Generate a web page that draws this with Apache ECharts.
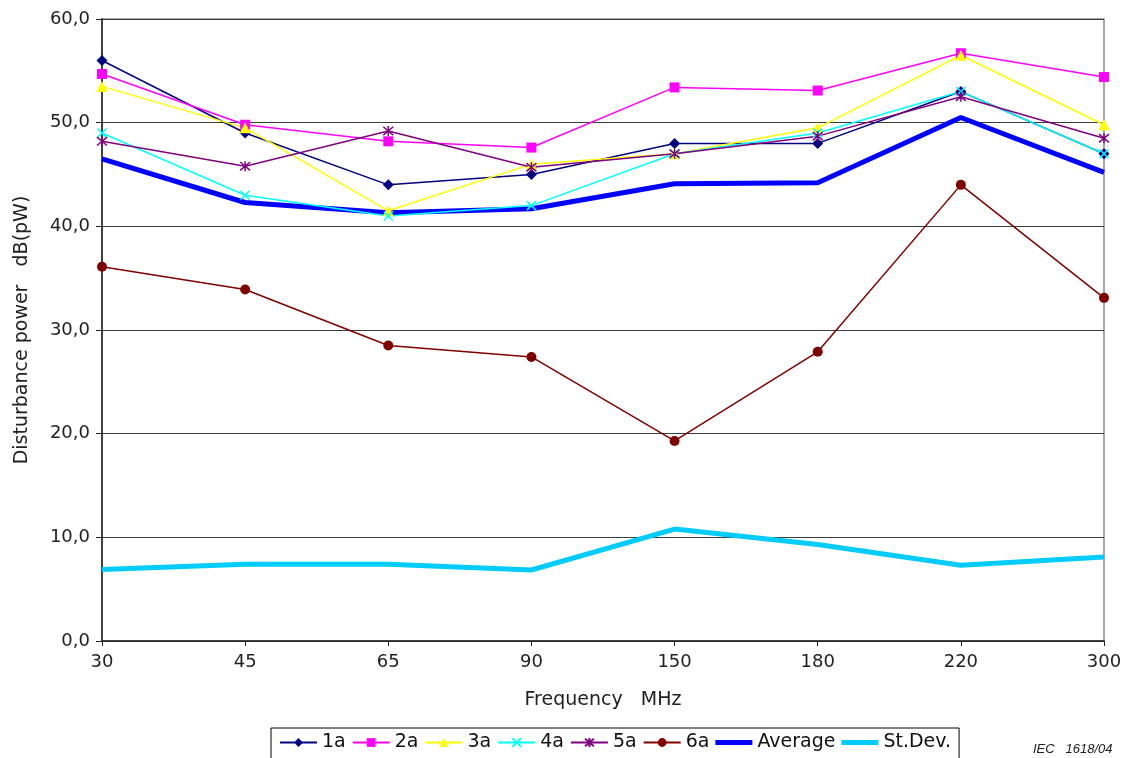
<!DOCTYPE html>
<html>
<head>
<meta charset="utf-8">
<title>Disturbance power vs frequency</title>
<script src="https://cdn.jsdelivr.net/npm/echarts@6/dist/echarts.min.js"></script>
<style>
  html, body { margin: 0; padding: 0; background: #fff; }
  #chart { width: 1129px; height: 758px; }
</style>
</head>
<body>
<div id="chart"></div>
<script>
// Frequency categories (MHz)
var frequencies = ['30', '45', '65', '90', '150', '180', '220', '300'];

// Measured disturbance power, dB(pW), per sample
var s1a = [56.0, 49.0, 44.0, 45.0, 48.0, 48.0, 53.0, 47.0];
var s2a = [54.7, 49.8, 48.2, 47.6, 53.4, 53.1, 56.7, 54.4];
var s3a = [53.5, 49.5, 41.5, 46.0, 47.0, 49.5, 56.5, 49.8];
var s4a = [49.0, 43.0, 41.0, 42.0, 47.0, 49.0, 53.0, 47.0];
var s5a = [48.2, 45.8, 49.2, 45.7, 47.0, 48.7, 52.5, 48.5];
var s6a = [36.1, 33.9, 28.5, 27.4, 19.3, 27.9, 44.0, 33.1];
var average = [46.5, 42.3, 41.3, 41.7, 44.1, 44.2, 50.5, 45.2];
var stDev = [6.9, 7.4, 7.4, 6.85, 10.8, 9.3, 7.3, 8.1];

// Y axis ticks
var yTicks = [0, 10, 20, 30, 40, 50, 60];

var FONT = 'DejaVu Sans';
var crossPath = 'path://M0,0L10,10M10,0L0,10';
var asteriskPath = 'path://M0,0L10,10M10,0L0,10M5,-1L5,11';
// plain thick bar used as legend key for the summary lines
var barIcon = 'path://M0,0H37V5H0Z';

function markerSeries(name, data, color, symbol, size, strokeOnly) {
  return {
    name: name,
    type: 'line',
    data: data,
    symbol: symbol,
    symbolSize: size,
    showAllSymbol: true,
    lineStyle: { color: color, width: 1.5 },
    itemStyle: strokeOnly
      ? { color: color, borderColor: color, borderWidth: 1.5 }
      : { color: color, borderWidth: 0 },
    emphasis: { disabled: true },
    z: 3
  };
}

function plainSeries(name, data, color, width) {
  return {
    name: name,
    type: 'line',
    data: data,
    symbol: 'none',
    lineStyle: { color: color, width: width },
    itemStyle: { color: color },
    emphasis: { disabled: true },
    z: 2
  };
}

var chart = echarts.init(document.getElementById('chart'), null, { renderer: 'canvas' });

chart.setOption({
  animation: false,
  backgroundColor: '#ffffff',
  textStyle: { fontFamily: FONT },
  grid: {
    left: 102, right: 25, top: 19, bottom: 117,
    show: true, borderColor: '#8a8a8a', borderWidth: 1.5, backgroundColor: 'transparent'
  },
  legend: {
    left: 271, top: 728,
    padding: [5, 8, 8, 8],
    itemGap: 6,
    itemWidth: 37,
    itemHeight: 11,
    borderColor: '#000', borderWidth: 1,
    textStyle: { fontFamily: FONT, fontSize: 19, color: '#111' },
    data: [
      '1a', '2a', '3a', '4a', '5a', '6a',
      { name: 'Average', icon: barIcon },
      { name: 'St.Dev.', icon: barIcon }
    ]
  },
  xAxis: {
    type: 'category',
    data: frequencies,
    boundaryGap: false,
    name: 'Frequency   MHz',
    nameLocation: 'middle',
    nameGap: 50,
    nameTextStyle: { fontFamily: FONT, fontSize: 19, color: '#222' },
    axisLine: { lineStyle: { color: '#222', width: 1.5 } },
    axisTick: { show: true, length: 5, lineStyle: { color: '#222' } },
    axisLabel: { fontFamily: FONT, fontSize: 18, color: '#222', margin: 12 },
    splitLine: { show: false }
  },
  yAxis: {
    type: 'value',
    min: yTicks[0],
    max: yTicks[yTicks.length - 1],
    interval: 10,
    name: 'Disturbance power   dB(pW)',
    nameLocation: 'middle',
    nameGap: 70,
    nameTextStyle: { fontFamily: FONT, fontSize: 19, color: '#222' },
    axisLine: { show: true, lineStyle: { color: '#222', width: 1.5 } },
    axisTick: { show: true, length: 6, lineStyle: { color: '#222' } },
    axisLabel: {
      fontFamily: FONT, fontSize: 18, color: '#222', margin: 12,
      formatter: function (v) { return v.toFixed(1).replace('.', ','); }
    },
    splitLine: { show: true, lineStyle: { color: '#3c3c3c', width: 1 } }
  },
  graphic: [{
    type: 'text',
    left: 1033, top: 743,
    style: { text: 'IEC   1618/04', font: 'italic 13px "Liberation Sans"', fill: '#222' }
  }],
  series: [
    markerSeries('1a', s1a, '#000080', 'diamond', 11, false),
    markerSeries('2a', s2a, '#ff00ff', 'rect', 10, false),
    markerSeries('3a', s3a, '#ffff00', 'triangle', 11, false),
    markerSeries('4a', s4a, '#00ffff', crossPath, 9, true),
    markerSeries('5a', s5a, '#800080', asteriskPath, 10, true),
    markerSeries('6a', s6a, '#800000', 'circle', 10, false),
    plainSeries('Average', average, '#0000ff', 5),
    plainSeries('St.Dev.', stDev, '#00ccff', 5)
  ]
});
</script>
</body>
</html>
